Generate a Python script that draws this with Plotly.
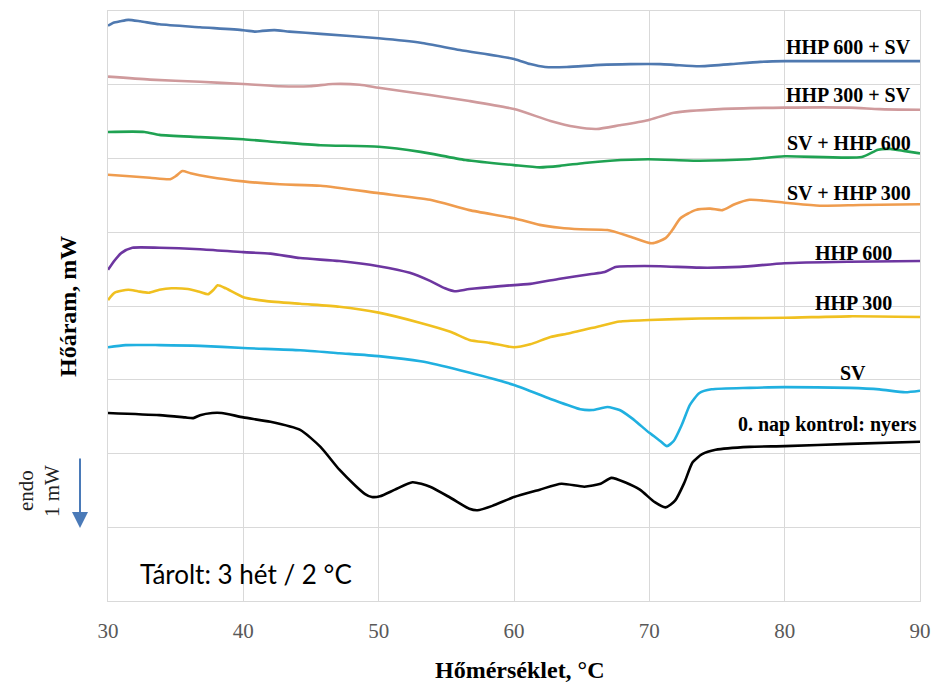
import plotly.graph_objects as go

# ---- data (temperature °C, heat flow in stacked mW units) ----
t_hhp600_sv = [30.0,30.4,30.9,31.5,32.4,33.8,36.8,40.0,40.9,41.4,42.3,43.4,45.7,50.0,53.1,56.0,60.0,61.2,62.3,63.9,66.4,68.6,70.8,71.8,73.7,76.0,78.2,80.0,84.8,90.0]
v_hhp600_sv = [7.80,7.84,7.86,7.88,7.86,7.82,7.78,7.74,7.72,7.73,7.74,7.72,7.69,7.63,7.57,7.47,7.35,7.28,7.24,7.24,7.27,7.28,7.28,7.27,7.25,7.28,7.31,7.32,7.32,7.32]

t_hhp300_sv = [30.0,33.1,36.8,40.0,42.7,44.9,46.6,48.6,50.0,53.8,56.7,60.0,62.7,64.5,66.1,67.8,69.9,71.8,75.2,80.0,84.8,87.0,90.0]
v_hhp300_sv = [7.11,7.07,7.04,7.01,6.98,6.98,7.01,7.00,6.96,6.86,6.78,6.67,6.51,6.43,6.40,6.45,6.52,6.62,6.67,6.69,6.69,6.67,6.66]

t_sv_hhp600 = [30.0,32.7,33.8,36.8,40.0,42.7,45.7,50.0,53.1,56.4,60.0,61.9,63.4,65.2,67.1,69.9,73.7,77.4,80.0,85.7,86.9,87.8,88.9,90.0]
v_sv_hhp600 = [6.36,6.36,6.32,6.29,6.26,6.22,6.18,6.16,6.09,5.98,5.91,5.88,5.90,5.94,5.97,5.99,5.97,5.99,6.03,6.02,6.12,6.13,6.10,6.07]

t_sv_hhp300 = [30.0,31.6,33.1,34.6,35.0,35.5,36.1,37.5,40.0,42.7,45.7,50.0,53.8,56.7,60.0,61.9,63.4,64.9,66.9,68.6,70.2,71.2,71.7,72.3,73.4,74.5,75.4,76.3,77.4,80.0,82.6,85.6,90.0]
v_sv_hhp300 = [5.78,5.76,5.74,5.72,5.76,5.83,5.80,5.75,5.69,5.65,5.63,5.53,5.44,5.30,5.19,5.10,5.06,5.04,5.03,4.94,4.85,4.92,5.03,5.19,5.30,5.32,5.30,5.38,5.44,5.40,5.36,5.37,5.38]

t_hhp600 = [30.0,30.5,31.0,31.8,33.8,36.8,40.0,42.0,44.2,47.1,50.0,52.3,53.8,54.9,55.6,56.7,59.0,61.2,63.4,65.6,66.7,67.5,68.6,70.8,73.7,76.7,80.0,84.8,90.0]
v_hhp600 = [4.49,4.62,4.72,4.79,4.79,4.77,4.73,4.71,4.65,4.61,4.54,4.45,4.34,4.24,4.20,4.23,4.27,4.30,4.37,4.43,4.46,4.53,4.54,4.54,4.52,4.53,4.58,4.60,4.61]

t_hhp300 = [30.0,30.5,31.5,32.2,33.0,33.8,34.7,35.9,36.8,37.4,37.8,38.1,38.7,40.0,41.6,44.2,47.1,50.0,53.1,55.3,56.7,58.2,60.0,61.2,62.7,64.1,66.4,67.8,70.0,73.7,80.0,84.8,90.0]
v_hhp300 = [4.08,4.18,4.22,4.20,4.18,4.22,4.24,4.23,4.19,4.16,4.22,4.28,4.24,4.12,4.07,4.03,3.99,3.91,3.77,3.65,3.54,3.50,3.44,3.48,3.58,3.63,3.73,3.79,3.81,3.83,3.84,3.86,3.85]

t_sv = [30.0,31.3,33.8,36.8,40.0,44.2,47.1,50.0,53.1,56.0,60.0,62.7,64.9,65.8,66.9,67.8,68.7,70.0,70.8,71.3,71.8,72.4,73.0,73.7,74.6,77.4,80.0,84.8,87.0,88.9,90.0]
v_sv = [3.44,3.47,3.47,3.46,3.43,3.40,3.36,3.32,3.25,3.13,2.93,2.74,2.60,2.59,2.63,2.59,2.48,2.28,2.17,2.10,2.17,2.39,2.66,2.82,2.87,2.89,2.90,2.89,2.87,2.83,2.85]

t_kontrol = [30.0,33.8,35.7,36.3,36.8,37.7,38.4,40.0,42.0,44.2,45.7,47.1,48.3,49.0,49.5,50.1,51.2,52.5,53.8,55.3,56.7,57.3,58.4,60.0,61.9,63.5,65.2,66.4,67.2,68.2,69.3,70.4,71.2,71.9,72.6,73.2,73.9,74.9,77.4,80.0,84.8,90.0]
v_kontrol = [2.55,2.52,2.49,2.48,2.52,2.55,2.55,2.49,2.43,2.32,2.09,1.78,1.56,1.45,1.41,1.42,1.51,1.61,1.55,1.40,1.25,1.23,1.29,1.41,1.51,1.59,1.55,1.59,1.67,1.61,1.51,1.34,1.27,1.36,1.61,1.88,1.99,2.05,2.09,2.10,2.13,2.16]

x_ticks = [30, 40, 50, 60, 70, 80, 90]

series = [
    ("HHP 600 + SV", t_hhp600_sv, v_hhp600_sv, "#4f79b0"),
    ("HHP 300 + SV", t_hhp300_sv, v_hhp300_sv, "#cf9a9c"),
    ("SV + HHP 600", t_sv_hhp600, v_sv_hhp600, "#1fa252"),
    ("SV + HHP 300", t_sv_hhp300, v_sv_hhp300, "#ef9c4e"),
    ("HHP 600", t_hhp600, v_hhp600, "#6d36a0"),
    ("HHP 300", t_hhp300, v_hhp300, "#f0c020"),
    ("SV", t_sv, v_sv, "#20b0e0"),
    ("0. nap kontrol: nyers", t_kontrol, v_kontrol, "#000000"),
]

fig = go.Figure()
for name, t, v, c in series:
    fig.add_trace(go.Scatter(x=t, y=v, mode="lines", name=name, hoverinfo="skip",
                             line=dict(color=c, width=2.6, shape="spline", smoothing=0.6)))

serif = "Liberation Serif, Times New Roman, serif"
label_font = dict(family=serif, size=20, color="#000000")

# curve labels
for txt, yv in [("HHP 600 + SV", 7.51), ("HHP 300 + SV", 6.86), ("SV + HHP 600", 6.21), ("SV + HHP 300", 5.53)]:
    fig.add_annotation(x=89.5, y=yv, text="<b>%s</b>" % txt, showarrow=False,
                       xanchor="right", yanchor="middle", font=label_font)
for txt, yv in [("HHP 600", 4.72), ("HHP 300", 4.04), ("SV", 3.09)]:
    fig.add_annotation(x=85.05, y=yv, text="<b>%s</b>" % txt, showarrow=False,
                       xanchor="center", yanchor="middle", font=label_font)
fig.add_annotation(x=89.95, y=2.39, text="<b>0. nap kontrol: nyers</b>", showarrow=False,
                   xanchor="right", yanchor="middle", font=label_font)

# the page body margin is removed below, so the figure fills the window
W, H = 935, 685
L, T = 108, 11
R = W - 920
B = H - 601
pw, ph = W - L - R, H - T - B

def px(xp):  # page pixel -> paper x
    return (xp - L) / pw

def py(yp):  # page pixel -> paper y
    return (H - B - yp) / ph

# axis titles
fig.add_annotation(xref="paper", yref="paper", x=px(520), y=py(670), text="<b>Hőmérséklet, °C</b>",
                   showarrow=False, xanchor="center", yanchor="middle",
                   font=dict(family=serif, size=24, color="#000000"))
fig.add_annotation(xref="paper", yref="paper", x=px(68), y=py(307), text="<b>Hőáram, mW</b>",
                   showarrow=False, textangle=-90, xanchor="center", yanchor="middle",
                   font=dict(family=serif, size=24, color="#000000"))

# endo / 1 mW scale marker
fig.add_annotation(xref="paper", yref="paper", x=px(26), y=py(491), text="endo",
                   showarrow=False, textangle=-90, xanchor="center", yanchor="middle",
                   font=dict(family=serif, size=21, color="#222222"))
fig.add_annotation(xref="paper", yref="paper", x=px(52), y=py(491), text="1 mW",
                   showarrow=False, textangle=-90, xanchor="center", yanchor="middle",
                   font=dict(family=serif, size=21, color="#222222"))
fig.add_annotation(xref="paper", yref="paper", x=px(80), y=py(528), ax=0, ay=-71,
                   axref="pixel", ayref="pixel", text="", showarrow=True,
                   arrowhead=2, arrowsize=1.6, arrowwidth=2, arrowcolor="#4a7ab8")

# storage note
fig.add_annotation(xref="paper", yref="paper", x=px(138), y=py(574), text="Tárolt: 3 hét / 2 °C",
                   showarrow=False, xanchor="left", yanchor="middle",
                   font=dict(family="Lato, Carlito, sans-serif", size=26, color="#000000"))

grid = "#d9d9d9"
fig.update_layout(
    width=W, height=H, autosize=False,
    margin=dict(l=L, r=R, t=T, b=B, autoexpand=False),
    paper_bgcolor="white", plot_bgcolor="white",
    showlegend=False, hovermode=False,
    xaxis=dict(range=[30, 90], tickvals=x_ticks, ticktext=[str(v) for v in x_ticks],
               showgrid=True, gridcolor=grid, gridwidth=1, zeroline=False,
               showline=True, linecolor=grid, linewidth=1, mirror=True,
               ticks="", ticklabelstandoff=11, automargin=False,
               tickfont=dict(family=serif, size=21, color="#595959")),
    yaxis=dict(range=[0, 8], dtick=1, showticklabels=False, automargin=False,
               showgrid=True, gridcolor=grid, gridwidth=1, zeroline=False,
               showline=True, linecolor=grid, linewidth=1, mirror=True, ticks=""),
)

fig.write_html(
    "out.html",
    config={"responsive": False, "displayModeBar": False},
    post_script="document.body.style.margin='0';document.body.style.overflow='hidden';"
                "document.documentElement.style.overflow='hidden';",
)
